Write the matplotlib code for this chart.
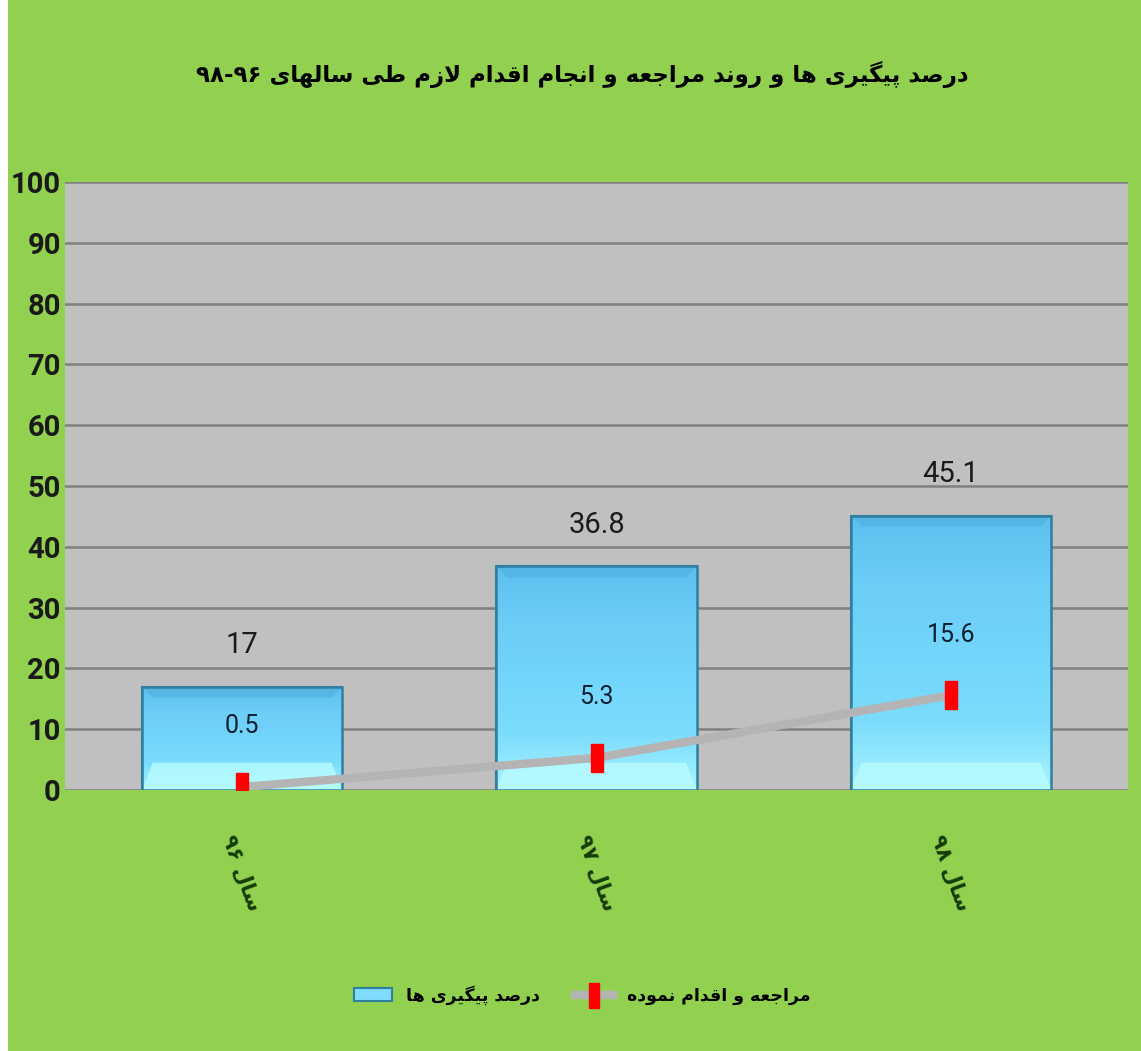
import re
import numpy as np
import matplotlib
matplotlib.use("Agg")
import matplotlib.pyplot as plt
from matplotlib.colors import LinearSegmentedColormap
from matplotlib.path import Path
from matplotlib.patches import Polygon, Rectangle

years = ["سال ۹۶", "سال ۹۷", "سال ۹۸"]
followup_pct = [17, 36.8, 45.1]
action_pct = [0.5, 5.3, 15.6]
y_ticks = [0, 10, 20, 30, 40, 50, 60, 70, 80, 90, 100]
title = "درصد پیگیری ها و روند مراجعه و انجام اقدام لازم طی سالهای ۹۶-۹۸"
legend_labels = ["درصد پیگیری ها", "مراجعه و اقدام نموده"]

# tiny arabic shaper: matplotlib does no shaping or bidi
FORMS = {
    'ا': ('\uFE8D', '\uFE8E', None, None),
    'د': ('\uFEA9', '\uFEAA', None, None),
    'ر': ('\uFEAD', '\uFEAE', None, None),
    'ز': ('\uFEAF', '\uFEB0', None, None),
    'و': ('\uFEED', '\uFEEE', None, None),
    'پ': ('\uFB56', '\uFB57', '\uFB58', '\uFB59'),
    'ج': ('\uFE9D', '\uFE9E', '\uFE9F', '\uFEA0'),
    'س': ('\uFEB1', '\uFEB2', '\uFEB3', '\uFEB4'),
    'ص': ('\uFEB9', '\uFEBA', '\uFEBB', '\uFEBC'),
    'ط': ('\uFEC1', '\uFEC2', '\uFEC3', '\uFEC4'),
    'ع': ('\uFEC9', '\uFECA', '\uFECB', '\uFECC'),
    'ق': ('\uFED5', '\uFED6', '\uFED7', '\uFED8'),
    'ل': ('\uFEDD', '\uFEDE', '\uFEDF', '\uFEE0'),
    'م': ('\uFEE1', '\uFEE2', '\uFEE3', '\uFEE4'),
    'ن': ('\uFEE5', '\uFEE6', '\uFEE7', '\uFEE8'),
    'ه': ('\uFEE9', '\uFEEA', '\uFEEB', '\uFEEC'),
    'ی': ('\uFBFC', '\uFBFD', '\uFBFE', '\uFBFF'),
    'گ': ('\uFB92', '\uFB93', '\uFB94', '\uFB95'),
}


def dual(c):
    return c in FORMS and FORMS[c][2] is not None


def fa(s):
    res = []
    i = 0
    while i < len(s):
        c = s[i]
        pc = i > 0 and dual(s[i - 1])
        if c == 'ل' and i + 1 < len(s) and s[i + 1] == 'ا':
            res.append('\uFEFC' if pc else '\uFEFB')
            i += 2
            continue
        if c not in FORMS:
            res.append(c)
            i += 1
            continue
        nxt = s[i + 1] if i + 1 < len(s) else ''
        nc = dual(c) and nxt in FORMS
        iso, fin, ini, med = FORMS[c]
        res.append(med if pc and nc else fin if pc else ini if nc else iso)
        i += 1
    toks = re.findall(r'[0-9۰-۹]+|.', ''.join(res))
    return ''.join(toks[::-1])


GREEN = '#92d050'
NUM_FONT = ['Liberation Sans Narrow', 'DejaVu Sans Condensed', 'Roboto', 'DejaVu Sans']
FA_FONT = ['DejaVu Sans']

fig = plt.figure(figsize=(11.41, 10.51), dpi=100, facecolor=GREEN)
fig.patches.append(Rectangle((0, 0), 0.007, 1, transform=fig.transFigure,
                             facecolor='white', edgecolor='none'))
ax = fig.add_axes([0.057, 0.2483, 0.9317, 0.5785])
ax.set_facecolor('#c0c0c0')

x = np.arange(len(years))
bw = 0.565
bars = ax.bar(x, followup_pct, width=bw, color='#6dd0f7', edgecolor='#2f7fa0',
              linewidth=1.5, zorder=2)

cmap = LinearSegmentedColormap.from_list('b', ['#5cbfee', '#6ccdf7', '#72d5fb', '#7cdcfc', '#a8f4ff'])
grad = np.linspace(0, 1, 256).reshape(-1, 1)
for b, v in zip(bars, followup_pct):
    x0 = b.get_x()
    im = ax.imshow(grad, cmap=cmap, aspect='auto', extent=(x0, x0 + bw, 0, v),
                   origin='upper', zorder=2.1, interpolation='bicubic')
    im.set_clip_path(b)
    # bevel strips
    d = 0.03
    ax.add_patch(Polygon([(x0, v), (x0 + bw, v), (x0 + bw - d, v - 1.8), (x0 + d, v - 1.8)],
                         closed=True, facecolor='#4fb0e0', edgecolor='none', alpha=0.6, zorder=2.2))
    ax.add_patch(Polygon([(x0, 0), (x0 + bw, 0), (x0 + bw - d, 4.5), (x0 + d, 4.5)],
                         closed=True, facecolor='#b8fcff', edgecolor='none', alpha=0.8, zorder=2.2))
    ax.add_patch(Rectangle((x0, 0), bw, v, facecolor='none', edgecolor='#2f7fa0',
                           linewidth=1.8, zorder=2.3))
    ax.annotate(str(v), (b.get_x() + bw / 2, v), xytext=(0, 20), textcoords='offset points',
                ha='center', va='bottom', fontsize=21, family=NUM_FONT, color='#1a1a1a')

rect = Path([(-0.4, -1), (0.4, -1), (0.4, 1), (-0.4, 1), (-0.4, -1)])
ax.plot(x, action_pct, color='#b4b4b4', linewidth=6, solid_capstyle='round',
        marker=rect, markersize=20, markerfacecolor='#ff0000', markeredgecolor='#ff0000',
        zorder=3)
for xi, v in zip(x, action_pct):
    ax.annotate(str(v), (xi, v), xytext=(0, 35), textcoords='offset points',
                ha='center', va='bottom', fontsize=18, family=NUM_FONT, color='#102030')

ax.set_xlim(-0.5, 2.5)
ax.set_ylim(0, 100)
ax.set_yticks(y_ticks)
ax.set_yticklabels([str(t) for t in y_ticks], fontsize=21, fontweight='bold',
                   family=NUM_FONT, color='#1a1a1a')
ax.grid(axis='y', color='#808080', linewidth=1.8)
ax.set_axisbelow(True)
ax.tick_params(length=0)
ax.tick_params(axis='y', pad=3)
ax.tick_params(axis='x', pad=30)
ax.set_xticks(x)
ax.set_xticklabels([fa(y) for y in years], rotation=-70, ha='center', va='top',
                   fontsize=15, fontweight='bold', family=FA_FONT, color='#143c0a')
for s in ax.spines.values():
    s.set_visible(False)

fig.text(0.51, 1 - 75 / 1051, fa(title), ha='center', va='center', fontsize=16.5,
         fontweight='bold', family=FA_FONT, color='black')

handles = [Rectangle((0, 0), 1, 1, facecolor='#7fdcfb', edgecolor='#2f7fa0', linewidth=1.5),
           plt.Line2D([], [], color='#b4b4b4', linewidth=6, marker=rect, markersize=18,
                      markerfacecolor='#ff0000', markeredgecolor='#ff0000')]
fig.legend(handles, [fa(l) for l in legend_labels], loc='center', ncol=2,
           bbox_to_anchor=(0.51, 1 - 995 / 1051), frameon=False,
           prop={'family': FA_FONT, 'weight': 'bold', 'size': 12.5},
           handlelength=2.2, columnspacing=2.0)

fig.savefig('out.png', dpi=100, facecolor=GREEN)
